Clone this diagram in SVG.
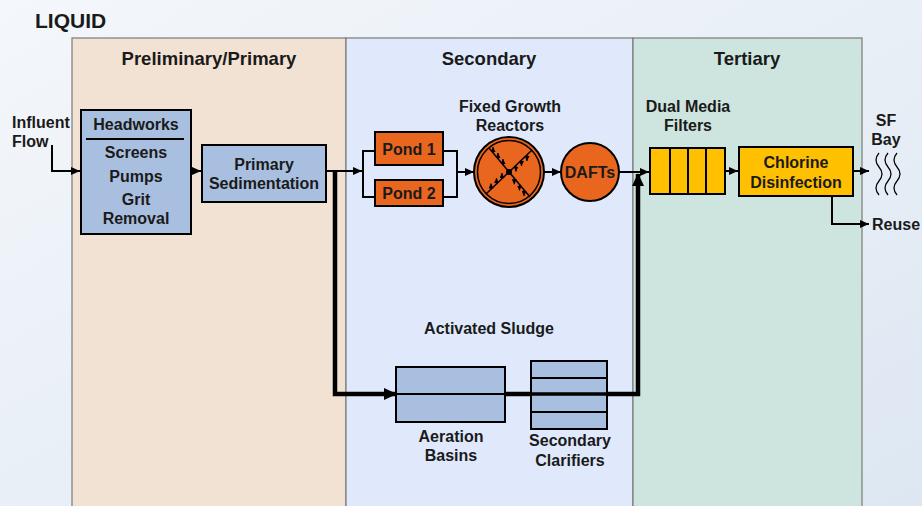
<svg xmlns="http://www.w3.org/2000/svg" width="922" height="506" viewBox="0 0 922 506">
  <defs>
    <linearGradient id="bg" x1="0" y1="0" x2="1" y2="1">
      <stop offset="0" stop-color="#f4f7fb"/>
      <stop offset="1" stop-color="#dde7f2"/>
    </linearGradient>
    <marker id="ah" markerWidth="9" markerHeight="8" refX="9" refY="4" orient="auto" markerUnits="userSpaceOnUse">
      <path d="M0,0 L9,4 L0,8 z" fill="#000"/>
    </marker>
    <marker id="ahBig" markerWidth="13" markerHeight="12" refX="12" refY="6" orient="auto" markerUnits="userSpaceOnUse">
      <path d="M0,0 L13,6 L0,12 z" fill="#000"/>
    </marker>
    <marker id="ahTiny" markerWidth="5" markerHeight="5" refX="5" refY="2.5" orient="auto" markerUnits="userSpaceOnUse">
      <path d="M0,0 L5,2.5 L0,5 z" fill="#000"/>
    </marker>
    <style>
      text { font-family: "Liberation Sans", Arial, sans-serif; font-weight: bold; fill: #1a1a1a; }
      .hdr { font-size: 18.5px; text-anchor: middle; }
      .lbl { font-size: 16px; text-anchor: middle; }
      .side { font-size: 16px; }
      .blue { fill: #a9bfe0; stroke: #000; stroke-width: 2; }
      .orange { fill: #e8661e; stroke: #000; stroke-width: 2; }
      .yellow { fill: #ffc000; stroke: #000; stroke-width: 2; }
      .thin { fill: none; stroke: #000; stroke-width: 2; }
      .thick { fill: none; stroke: #000; stroke-width: 4.5; }
      .tiny { fill: none; stroke: #000; stroke-width: 1.2; }
      .panel { stroke: #7a7a7a; stroke-width: 1.2; }
    </style>
  </defs>

  <!-- page background -->
  <rect x="0" y="0" width="922" height="506" fill="url(#bg)"/>

  <text x="35" y="28" style="font-size:21px">LIQUID</text>

  <!-- treatment stage columns -->
  <g id="stages">
    <rect class="panel" x="72" y="38" width="274" height="470" fill="#f2e2d3"/>
    <rect class="panel" x="346" y="38" width="287" height="470" fill="#dfe9fb"/>
    <rect class="panel" x="633" y="38" width="229" height="470" fill="#cde5de"/>
    <text class="hdr" x="209" y="65">Preliminary/Primary</text>
    <text class="hdr" x="489" y="65">Secondary</text>
    <text class="hdr" x="747" y="65">Tertiary</text>
  </g>

  <!-- connectors -->
  <g id="connectors">
    <path class="thin" d="M52,145 V171 H80" marker-end="url(#ah)"/>
    <path class="thin" d="M191,171 H201" marker-end="url(#ah)"/>
    <path class="thin" d="M326,171 H362" marker-end="url(#ah)"/>
    <path class="thin" d="M375,151 H363 V197 H375"/>
    <path class="thin" d="M443,151 H457 V197 H443"/>
    <path class="thin" d="M457,172 H474" marker-end="url(#ah)"/>
    <path class="thin" d="M544,172 H561" marker-end="url(#ah)"/>
    <path class="thin" d="M619,172 H649" marker-end="url(#ah)"/>
    <path class="thin" d="M725,171 H738" marker-end="url(#ah)"/>
    <path class="thin" d="M853,171 H869" marker-end="url(#ah)"/>
    <path class="thin" d="M832,197 V224 H869" marker-end="url(#ah)"/>
    <path class="thick" d="M335,171 V394 H396" marker-end="url(#ahBig)"/>
    <path class="thick" d="M505,394 H531"/>
    <path class="thick" d="M606,394 H638 V174" marker-end="url(#ahBig)"/>
  </g>

  <text class="side" x="12" y="128">Influent</text>
  <text class="side" x="12" y="147">Flow</text>

  <g id="headworks">
    <rect class="blue" x="81" y="110" width="110" height="124"/>
    <text class="lbl" x="136" y="130">Headworks</text>
    <line x1="86" y1="139" x2="184" y2="139" stroke="#000" stroke-width="2"/>
    <text class="lbl" x="136" y="158">Screens</text>
    <text class="lbl" x="136" y="182">Pumps</text>
    <text class="lbl" x="136" y="205">Grit</text>
    <text class="lbl" x="136" y="224">Removal</text>
  </g>

  <g id="primary-sedimentation">
    <rect class="blue" x="202" y="145" width="124" height="57"/>
    <text class="lbl" x="264" y="170">Primary</text>
    <text class="lbl" x="264" y="189">Sedimentation</text>
  </g>

  <g id="pond1">
    <rect class="orange" x="375" y="132" width="68" height="33"/>
    <text class="lbl" x="409" y="155">Pond 1</text>
  </g>
  <g id="pond2">
    <rect class="orange" x="375" y="180" width="68" height="26"/>
    <text class="lbl" x="409" y="199">Pond 2</text>
  </g>

  <g id="fixed-growth-reactors">
    <text class="lbl" x="510" y="112">Fixed Growth</text>
    <text class="lbl" x="510" y="131">Reactors</text>
    <circle class="orange" cx="509" cy="172" r="35"/>
    <circle cx="509" cy="172" r="31.5" fill="none" stroke="#000" stroke-width="1.5"/>
    <line x1="489" y1="148" x2="530" y2="197" stroke="#000" stroke-width="1.5"/>
    <line x1="532" y1="150" x2="486" y2="194" stroke="#000" stroke-width="1.5"/>
    <circle cx="509" cy="172" r="3" fill="#000"/>
    <!-- upward arrows, upper-left arm -->
    <path class="tiny" d="M503,165 v-6" marker-end="url(#ahTiny)"/>
    <path class="tiny" d="M498,159 v-6" marker-end="url(#ahTiny)"/>
    <path class="tiny" d="M493,153 v-6" marker-end="url(#ahTiny)"/>
    <!-- upward arrows, lower-left arm -->
    <path class="tiny" d="M502,179 v-6" marker-end="url(#ahTiny)"/>
    <path class="tiny" d="M496.5,184 v-6" marker-end="url(#ahTiny)"/>
    <path class="tiny" d="M491,189.5 v-6" marker-end="url(#ahTiny)"/>
    <!-- downward arrows, upper-right arm -->
    <path class="tiny" d="M516,165.5 v6" marker-end="url(#ahTiny)"/>
    <path class="tiny" d="M521.5,160 v6" marker-end="url(#ahTiny)"/>
    <path class="tiny" d="M527,155 v6" marker-end="url(#ahTiny)"/>
    <!-- downward arrows, lower-right arm -->
    <path class="tiny" d="M514.3,178.3 v6" marker-end="url(#ahTiny)"/>
    <path class="tiny" d="M519.5,184.5 v6" marker-end="url(#ahTiny)"/>
    <path class="tiny" d="M524,190 v6" marker-end="url(#ahTiny)"/>
  </g>

  <g id="dafts">
    <circle class="orange" cx="590" cy="172" r="29"/>
    <text class="lbl" x="590" y="178">DAFTs</text>
  </g>

  <g id="dual-media-filters">
    <text class="lbl" x="688" y="112">Dual Media</text>
    <text class="lbl" x="688" y="131">Filters</text>
    <rect class="yellow" x="650" y="148" width="75" height="46"/>
    <line x1="670" y1="148" x2="670" y2="194" stroke="#000" stroke-width="2"/>
    <line x1="688" y1="148" x2="688" y2="194" stroke="#000" stroke-width="2"/>
    <line x1="706" y1="148" x2="706" y2="194" stroke="#000" stroke-width="2"/>
  </g>

  <g id="chlorine-disinfection">
    <rect class="yellow" x="739" y="147" width="114" height="49"/>
    <text class="lbl" x="796" y="168">Chlorine</text>
    <text class="lbl" x="796" y="188">Disinfection</text>
  </g>

  <g id="sf-bay">
    <text class="lbl" x="886" y="126">SF</text>
    <text class="lbl" x="886" y="145">Bay</text>
    <path class="tiny" d="M879,153 q-6,7 0,14 q6,7 0,14 q-6,7 0,14"/>
    <path class="tiny" d="M888,153 q-6,7 0,14 q6,7 0,14 q-6,7 0,14"/>
    <path class="tiny" d="M897,153 q-6,7 0,14 q6,7 0,14 q-6,7 0,14"/>
  </g>

  <g id="reuse">
    <text class="side" x="872" y="230">Reuse</text>
  </g>

  <text class="lbl" x="489" y="334">Activated Sludge</text>

  <g id="aeration-basins">
    <rect class="blue" x="396" y="367" width="109" height="55"/>
    <line x1="396" y1="394" x2="505" y2="394" stroke="#000" stroke-width="2"/>
    <text class="lbl" x="451" y="442">Aeration</text>
    <text class="lbl" x="451" y="461">Basins</text>
  </g>

  <g id="secondary-clarifiers">
    <rect class="blue" x="531" y="361" width="76" height="68"/>
    <line x1="531" y1="378" x2="607" y2="378" stroke="#000" stroke-width="2"/>
    <line x1="531" y1="394" x2="607" y2="394" stroke="#000" stroke-width="3.5"/>
    <line x1="531" y1="412" x2="607" y2="412" stroke="#000" stroke-width="2"/>
    <text class="lbl" x="570" y="446">Secondary</text>
    <text class="lbl" x="570" y="466">Clarifiers</text>
  </g>
</svg>
